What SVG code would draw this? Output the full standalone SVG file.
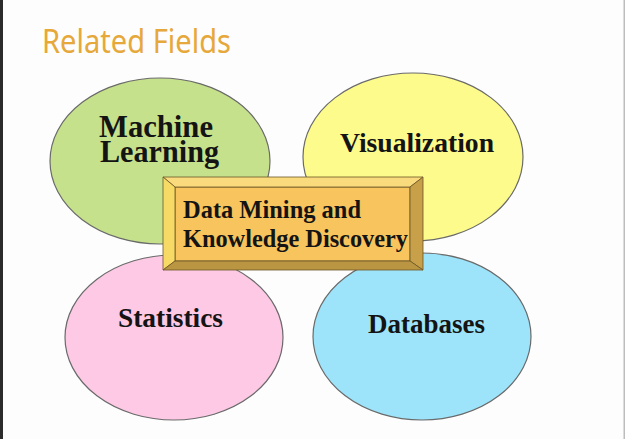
<svg xmlns="http://www.w3.org/2000/svg" width="625" height="439" viewBox="0 0 625 439">
<style>
.field{stroke:#6a6a6a;stroke-width:1.2}
.lbl{font-family:"Liberation Serif","Times New Roman",serif;font-weight:bold;fill:#141414}
.title{font-family:"Noto Sans","Open Sans",sans-serif;fill:#E6A83A}
.bevel{stroke:#6b5626;stroke-width:0.8;stroke-linejoin:round}
</style>
<rect x="0" y="0" width="625" height="439" fill="#fdfdfd"/>
<rect x="0" y="0" width="3" height="439" fill="#2b2b2b"/>
<rect x="623.5" y="0" width="1.5" height="439" fill="#bdbdbd"/>
<text class="title" x="42" y="53" font-size="32" textLength="189" lengthAdjust="spacingAndGlyphs">Related Fields</text>
<g id="machine-learning">
<ellipse class="field" cx="160" cy="161" rx="110" ry="83" fill="#C6E18B"/>
<text class="lbl" x="99" y="137" font-size="30.5" textLength="114" lengthAdjust="spacingAndGlyphs">Machine</text>
<text class="lbl" x="100" y="162" font-size="30.5" textLength="119" lengthAdjust="spacingAndGlyphs">Learning</text>
</g>
<g id="visualization">
<ellipse class="field" cx="413" cy="157" rx="110" ry="84" fill="#FDFB8C"/>
<text class="lbl" x="340" y="152" font-size="27.5" textLength="154" lengthAdjust="spacingAndGlyphs">Visualization</text>
</g>
<g id="statistics">
<ellipse class="field" cx="174" cy="337.5" rx="109" ry="82.5" fill="#FEC9E5"/>
<text class="lbl" x="118" y="327" font-size="27.5" textLength="105" lengthAdjust="spacingAndGlyphs">Statistics</text>
</g>
<g id="databases">
<ellipse class="field" cx="422" cy="336.5" rx="109" ry="83.5" fill="#9DE4FA"/>
<text class="lbl" x="368" y="333" font-size="27.5" textLength="117" lengthAdjust="spacingAndGlyphs">Databases</text>
</g>
<g id="connectors"></g>
<g id="data-mining">
<polygon class="bevel" points="175,187 410,187 410,261 175,261" fill="#F8C45D"/>
<polygon class="bevel" points="163,177 423,177 410,187 175,187" fill="#F9DA7C"/>
<polygon class="bevel" points="163,177 175,187 175,261 163,270" fill="#F7DA66"/>
<polygon class="bevel" points="423,177 423,270 410,261 410,187" fill="#C7A049"/>
<polygon class="bevel" points="163,270 423,270 410,261 175,261" fill="#BA9542"/>
<text class="lbl" x="183" y="218" font-size="24.5" textLength="178" lengthAdjust="spacingAndGlyphs">Data Mining and</text>
<text class="lbl" x="183" y="247" font-size="24.5" textLength="225" lengthAdjust="spacingAndGlyphs">Knowledge Discovery</text>
</g>
</svg>
